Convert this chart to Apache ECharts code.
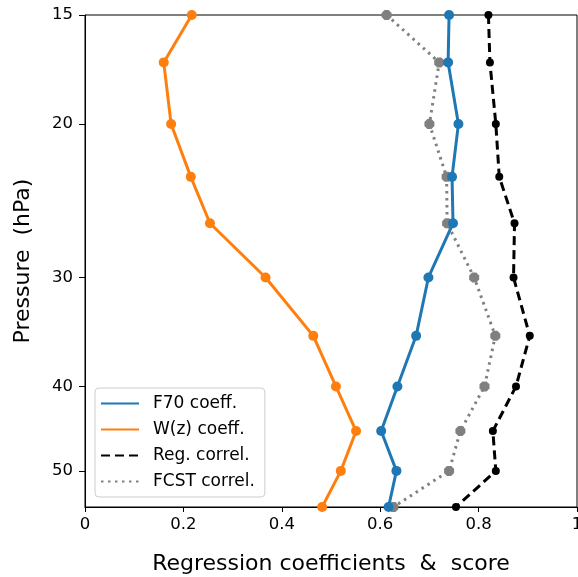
<!DOCTYPE html>
<html>
<head>
<meta charset="utf-8">
<script src="https://cdn.jsdelivr.net/npm/echarts@6/dist/echarts.min.js"></script>
<style>
  html, body { margin: 0; padding: 0; background: #fff; }
  #main { width: 578px; height: 577px; }
</style>
</head>
<body>
<div id="main"></div>
<script>
// pressure levels (hPa), log scale, top = 15
var pressure = [15, 17, 20, 23, 26, 30, 35, 40, 45, 50, 55]
var pressureTicks = [15, 20, 30, 40, 50]

var f70Coeff = [0.740, 0.738, 0.759, 0.746, 0.748, 0.698, 0.673, 0.635, 0.602, 0.633, 0.617]
var wzCoeff = [0.217, 0.160, 0.175, 0.215, 0.254, 0.367, 0.464, 0.510, 0.551, 0.520, 0.482]
var regCorrel = [0.820, 0.823, 0.835, 0.842, 0.873, 0.871, 0.904, 0.876, 0.829, 0.835, 0.754]
var fcstCorrel = [0.613, 0.720, 0.700, 0.735, 0.736, 0.791, 0.834, 0.812, 0.763, 0.740, 0.627]

var font = 'DejaVu Sans'

function pairs(vals) {
  return vals.map(function (v, i) { return [v, Math.log10(pressure[i])] })
}

var chart = echarts.init(document.getElementById('main'))

var option = {
  animation: false,
  textStyle: { fontFamily: font },
  grid: {
    left: 85, right: 1, top: 15, bottom: 70,
    outerBoundsMode: 'none',
    containLabel: false,
    show: true, borderColor: '#000', borderWidth: 1
  },
  legend: {
    orient: 'vertical',
    left: 95,
    top: 388,
    padding: [7, 10, 7, 5],
    itemWidth: 38,
    itemHeight: 14,
    itemGap: 9,
    borderColor: '#cccccc',
    borderWidth: 1,
    borderRadius: 4,
    backgroundColor: 'rgba(255,255,255,0.8)',
    itemStyle: { opacity: 0 },
    textStyle: { fontFamily: font, fontSize: 17, color: '#000', padding: [0, 0, 0, 9] },
    data: ['F70 coeff.', 'W(z) coeff.', 'Reg. correl.', 'FCST correl.']
  },
  xAxis: {
    type: 'value',
    min: 0, max: 1, interval: 0.2,
    name: 'Regression coefficients  &  score',
    nameLocation: 'middle',
    nameGap: 46,
    nameTextStyle: { fontFamily: font, fontSize: 22, color: '#000' },
    axisLine: { lineStyle: { color: '#000', width: 1 } },
    axisTick: { show: true, length: 5, lineStyle: { color: '#000' } },
    axisLabel: { fontFamily: font, fontSize: 16.5, color: '#000', margin: 9 },
    splitLine: { show: false }
  },
  yAxis: {
    type: 'value',
    inverse: true,
    min: Math.log10(15),
    max: Math.log10(55),
    name: 'Pressure  (hPa)',
    nameLocation: 'middle',
    nameGap: 51,
    nameTextStyle: { fontFamily: font, fontSize: 22, color: '#000' },
    axisLine: { show: true, lineStyle: { color: '#000', width: 1 } },
    axisTick: {
      show: true, length: 6, lineStyle: { color: '#000' },
      customValues: pressureTicks.map(function (p) { return Math.log10(p) })
    },
    axisLabel: {
      fontFamily: font, fontSize: 16.5, color: '#000', margin: 12,
      customValues: pressureTicks.map(function (p) { return Math.log10(p) }),
      formatter: function (v) { return String(Math.round(Math.pow(10, v))) }
    },
    splitLine: { show: false }
  },
  series: [
    {
      name: 'F70 coeff.', type: 'line', data: pairs(f70Coeff),
      color: '#1f77b4', symbol: 'circle', symbolSize: 10,
      lineStyle: { width: 3, color: '#1f77b4' }, z: 4
    },
    {
      name: 'W(z) coeff.', type: 'line', data: pairs(wzCoeff),
      color: '#ff7f0e', symbol: 'circle', symbolSize: 10,
      lineStyle: { width: 3, color: '#ff7f0e' }, z: 4
    },
    {
      name: 'Reg. correl.', type: 'line', data: pairs(regCorrel),
      color: '#000', symbol: 'circle', symbolSize: 8,
      lineStyle: { width: 3, color: '#000', type: [9, 5] }, z: 3
    },
    {
      name: 'FCST correl.', type: 'line', data: pairs(fcstCorrel),
      color: '#808080', symbol: 'path://M-0.41,-1 L0.41,-1 L1,-0.41 L1,0.41 L0.41,1 L-0.41,1 L-1,0.41 L-1,-0.41 Z',
      symbolSize: 10,
      lineStyle: { width: 3, color: '#808080', type: [2.5, 4.5] }, z: 2
    }
  ]
}

chart.setOption(option)
</script>
</body>
</html>
